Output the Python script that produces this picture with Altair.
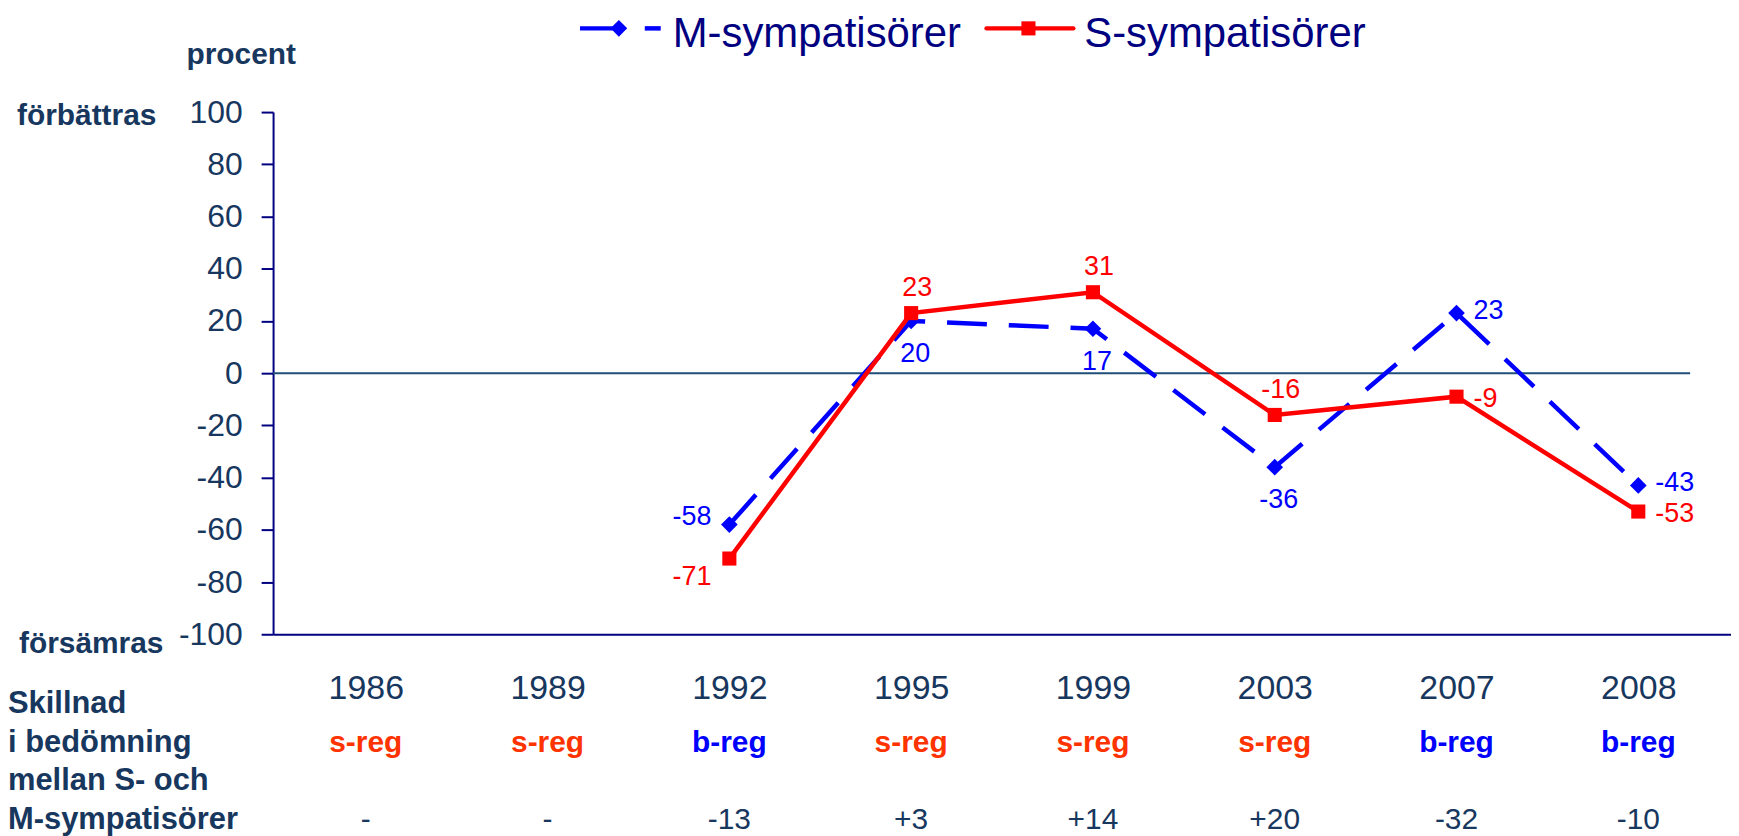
import altair as alt
import pandas as pd

# ---------------- data ----------------
years = ["1986", "1989", "1992", "1995", "1999", "2003", "2007", "2008"]
m_values = [None, None, -58, 20, 17, -36, 23, -43]
s_values = [None, None, -71, 23, 31, -16, -9, -53]
regering = ["s-reg", "s-reg", "b-reg", "s-reg", "s-reg", "s-reg", "b-reg", "b-reg"]
skillnad = ["-", "-", "-13", "+3", "+14", "+20", "-32", "-10"]
# where each value label sits relative to its point
m_label_pos = [None, None, "left", "below", "below", "below", "right", "right"]
s_label_pos = [None, None, "belowleft", "above", "above", "above", "right", "right"]
series_names = ["M-sympatisörer", "S-sympatisörer"]

# ---------------- styles ----------------
NAVY = "#000080"
TXT = "#17375E"
BLUE = "#0000FF"
RED = "#FF0000"
SREG = "#FF3300"
NUMFONT = "Liberation Sans"
BOLDFONT = "Liberation Sans"

rows = []
for i, yr in enumerate(years):
    if m_values[i] is not None:
        rows.append({"year": yr, "series": "M", "value": m_values[i], "pos": m_label_pos[i]})
    if s_values[i] is not None:
        rows.append({"year": yr, "series": "S", "value": s_values[i], "pos": s_label_pos[i]})
df = pd.DataFrame(rows)
df["label"] = df["value"].astype(int).astype(str)

rows_df = pd.DataFrame({"year": years, "reg": regering, "diff": skillnad})

x_enc = alt.X(
    "year:O",
    scale=alt.Scale(type="point", domain=years, padding=0.51),
    axis=alt.Axis(
        title=None, ticks=False, tickSize=0, labelAngle=0,
        labelFont=NUMFONT, labelFontSize=34, labelColor=TXT, labelPadding=37,
        domainColor=NAVY, domainWidth=2, grid=False,
    ),
)
y_enc = alt.Y(
    "value:Q",
    scale=alt.Scale(domain=[-100, 100], nice=False, zero=False),
    axis=alt.Axis(
        title=None, values=list(range(-100, 101, 20)), tickSize=12, tickWidth=2,
        tickColor=NAVY, domainColor=NAVY, domainWidth=2, grid=False,
        labelFont=NUMFONT, labelFontSize=32, labelColor=TXT, labelPadding=19,
        labelExpr="'' + datum.value",
    ),
)

base = alt.Chart(df)

zero_line = alt.Chart(pd.DataFrame({"value": [0]})).mark_rule(
    color="#1F4E79", strokeWidth=2
).encode(y=y_enc, x=alt.value(0), x2=alt.value(1422))

m_line = base.transform_filter(alt.datum.series == "M").mark_line(
    color=BLUE, strokeWidth=4.5, strokeDash=[40, 22]
).encode(x=x_enc, y=y_enc)
m_pts = base.transform_filter(alt.datum.series == "M").mark_point(
    shape="diamond", size=280, filled=True, color=BLUE, opacity=1
).encode(x=x_enc, y=y_enc)
s_line = base.transform_filter(alt.datum.series == "S").mark_line(
    color=RED, strokeWidth=4.5
).encode(x=x_enc, y=y_enc)
s_pts = base.transform_filter(alt.datum.series == "S").mark_point(
    shape="square", size=200, filled=True, color=RED, opacity=1
).encode(x=x_enc, y=y_enc)

placements = {
    "M": {
        "left": dict(align="right", dx=-18, dy=-8),
        "below": dict(align="center", dx=4, dy=33),
        "right": dict(align="left", dx=17, dy=-2),
    },
    "S": {
        "above": dict(align="center", dx=6, dy=-25),
        "right": dict(align="left", dx=17, dy=2),
        "belowleft": dict(align="right", dx=-18, dy=19),
    },
}
label_layers = []
for ser, col in [("M", BLUE), ("S", RED)]:
    for p, kw in placements[ser].items():
        label_layers.append(
            base.transform_filter((alt.datum.series == ser) & (alt.datum.pos == p))
            .mark_text(font=NUMFONT, fontSize=27, color=col, baseline="middle", **kw)
            .encode(x=x_enc, y=y_enc, text="label:N")
        )

reg_text = alt.Chart(rows_df).mark_text(
    font=BOLDFONT, fontWeight="bold", fontSize=30, baseline="middle"
).encode(
    x=x_enc, y=alt.value(633), text="reg:N",
    color=alt.Color("reg:N", scale=alt.Scale(domain=["s-reg", "b-reg"], range=[SREG, BLUE]), legend=None),
)
diff_text = alt.Chart(rows_df).mark_text(
    font=NUMFONT, fontSize=30, baseline="middle", color=TXT
).encode(x=x_enc, y=alt.value(710), text="diff:N")

# ---------------- side annotations ----------------
def side_text(txt, xv, yv, align="left", size=30):
    return alt.Chart(pd.DataFrame({"t": [txt]})).mark_text(
        font=BOLDFONT, fontWeight="bold", fontSize=size, color=TXT, align=align, baseline="middle"
    ).encode(text="t:N", x=alt.value(xv), y=alt.value(yv))

side = [
    side_text("procent", -32, -57, "center"),
    side_text("förbättras", -257, 4),
    side_text("försämras", -255, 534),
    side_text("Skillnad", -266, 594, size=31),
    side_text("i bedömning", -266, 633, size=31),
    side_text("mellan S- och", -266, 671, size=31),
    side_text("M-sympatisörer", -266, 710, size=31),
]

# ---------------- legend ----------------
one = pd.DataFrame({"k": [0]})
leg = [
    alt.Chart(one).mark_rule(color=BLUE, strokeWidth=4.5).encode(
        x=alt.value(308), x2=alt.value(346), y=alt.value(-84)),
    alt.Chart(one).mark_point(shape="diamond", size=280, filled=True, color=BLUE, opacity=1).encode(
        x=alt.value(347), y=alt.value(-84)),
    alt.Chart(one).mark_rule(color=BLUE, strokeWidth=4.5).encode(
        x=alt.value(373), x2=alt.value(389), y=alt.value(-84)),
    alt.Chart(pd.DataFrame({"t": [series_names[0]]})).mark_text(
        font=NUMFONT, fontSize=42, color=NAVY, align="left", baseline="middle").encode(
        text="t:N", x=alt.value(401), y=alt.value(-78)),
    alt.Chart(one).mark_rule(color=RED, strokeWidth=4.5, strokeCap="round").encode(
        x=alt.value(716), x2=alt.value(803), y=alt.value(-84)),
    alt.Chart(one).mark_point(shape="square", size=200, filled=True, color=RED, opacity=1).encode(
        x=alt.value(758), y=alt.value(-84)),
    alt.Chart(pd.DataFrame({"t": [series_names[1]]})).mark_text(
        font=NUMFONT, fontSize=42, color=NAVY, align="left", baseline="middle").encode(
        text="t:N", x=alt.value(814), y=alt.value(-78)),
]

chart = alt.layer(
    zero_line, m_line, m_pts, s_line, s_pts, *label_layers, reg_text, diff_text, *side, *leg
).properties(
    width=1463, height=524,
    autosize=alt.AutoSizeParams(type="none"),
    padding={"left": 266, "top": 103, "right": 0, "bottom": 201},
    background="white",
).configure_view(stroke=None)

chart.save("out.html", embed_options={"renderer": "svg", "actions": False})
